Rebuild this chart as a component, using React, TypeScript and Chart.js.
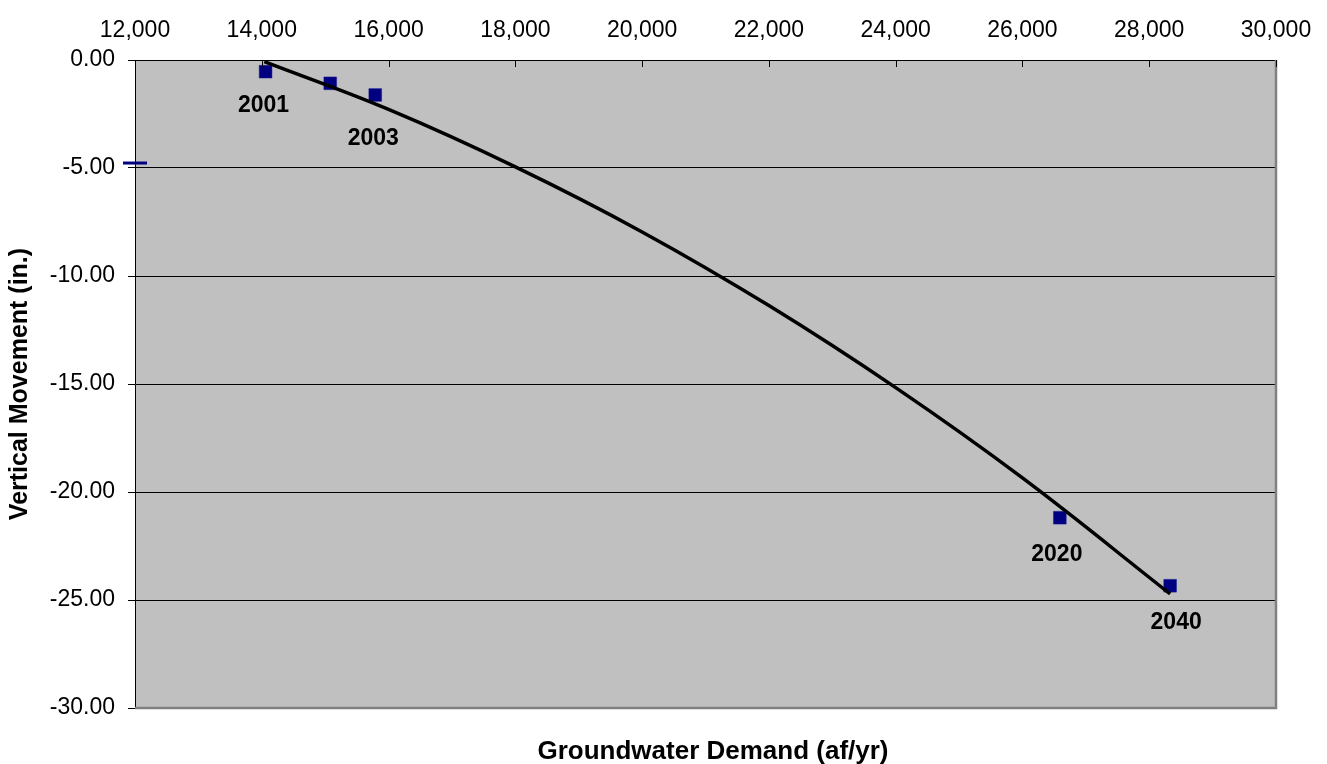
import React, { useEffect, useRef } from 'react';
import { Chart, registerables } from 'chart.js';

Chart.register(...registerables);

// ---- data ----
const yearLabels = ['2001', '', '2003', '2020', '2040'];
const demand = [14060, 15080, 15790, 26590, 28330];
const movement = [-0.54, -1.08, -1.62, -21.19, -24.34];

const trendDemand = [14040, 16000, 18000, 20000, 22000, 24000, 26000, 28330];
const trendMovement = [-0.08, -2.29, -4.95, -7.96, -11.37, -15.17, -19.35, -24.72];

const strayDemand = [12000];
const strayMovement = [-4.77];

const xTickValues = [12000, 14000, 16000, 18000, 20000, 22000, 24000, 26000, 28000, 30000];
const yTickValues = [0, -5, -10, -15, -20, -25, -30];

const xTitle = 'Groundwater Demand (af/yr)';
const yTitle = 'Vertical Movement (in.)';

// label placement (style, not data)
const labelDx = [-2, 0, -2, -3, 6];
const labelDy = [34, 0, 44, 37, 37];

const FONT = '"Liberation Sans", Arial, Helvetica, sans-serif';

export default function App() {
  const ref = useRef<HTMLCanvasElement | null>(null);

  useEffect(() => {
    document.body.style.margin = '0';
    const canvas = ref.current;
    if (!canvas) return;

    const decor = {
      id: 'decor',
      beforeDraw(chart: any) {
        const { ctx, chartArea: a } = chart;
        ctx.save();
        ctx.fillStyle = '#ffffff';
        ctx.fillRect(0, 0, chart.width, chart.height);
        ctx.fillStyle = '#C0C0C0';
        ctx.fillRect(a.left, a.top, a.right - a.left, a.bottom - a.top);
        ctx.restore();
      },
      afterDatasetsDraw(chart: any) {
        const { ctx } = chart;
        const meta = chart.getDatasetMeta(1);
        ctx.save();
        ctx.fillStyle = '#000000';
        ctx.font = 'bold 23px ' + FONT;
        ctx.textAlign = 'center';
        ctx.textBaseline = 'middle';
        meta.data.forEach((el: any, i: number) => {
          const t = yearLabels[i];
          if (!t) return;
          ctx.fillText(t, el.x + labelDx[i], el.y + labelDy[i]);
        });
        ctx.restore();
      },
      afterDraw(chart: any) {
        const { ctx, chartArea: a, scales } = chart;
        ctx.save();
        // gray right and bottom border
        ctx.strokeStyle = '#808080';
        ctx.lineWidth = 2.5;
        ctx.beginPath();
        ctx.moveTo(a.right, a.top);
        ctx.lineTo(a.right, a.bottom);
        ctx.lineTo(a.left, a.bottom);
        ctx.stroke();
        // inner tick marks of the top axis
        ctx.strokeStyle = '#000000';
        ctx.lineWidth = 1;
        xTickValues.forEach((v) => {
          const px = Math.round(scales.x.getPixelForValue(v)) + 0.5;
          ctx.beginPath();
          ctx.moveTo(px, a.top);
          ctx.lineTo(px, a.top + 7);
          ctx.stroke();
        });
        // axis titles
        ctx.fillStyle = '#000000';
        ctx.font = 'bold 26px ' + FONT;
        ctx.textAlign = 'center';
        ctx.textBaseline = 'middle';
        ctx.fillText(xTitle, 713, 752);
        ctx.translate(20, 384);
        ctx.rotate(-Math.PI / 2);
        ctx.font = 'bold 25px ' + FONT;
        ctx.fillText(yTitle, 0, 0);
        ctx.restore();
      },
    };

    const chart = new Chart(canvas, {
      type: 'scatter',
      data: {
        datasets: [
          {
            label: 'Trend',
            data: trendDemand.map((x, i) => ({ x, y: trendMovement[i] })),
            showLine: true,
            borderColor: '#000000',
            borderWidth: 3.5,
            pointRadius: 0,
            tension: 0.4,
            order: 0,
          },
          {
            label: 'Vertical Movement',
            data: demand.map((x, i) => ({ x, y: movement[i] })),
            pointStyle: 'rect',
            pointRadius: 9,
            backgroundColor: '#000080',
            borderColor: '#1a1a99',
            borderWidth: 0.5,
            order: 1,
          },
          {
            label: 'Marker',
            data: strayDemand.map((x, i) => ({ x, y: strayMovement[i] })),
            pointStyle: 'line',
            pointRadius: 12,
            borderColor: '#000080',
            backgroundColor: '#000080',
            borderWidth: 3,
            clip: false,
            order: 2,
          },
        ],
      },
      options: {
        responsive: false,
        maintainAspectRatio: false,
        animation: false,
        devicePixelRatio: 1,
        layout: { padding: { left: 0, top: 0, right: 51, bottom: 56 } },
        plugins: {
          legend: { display: false },
          tooltip: { enabled: false },
        },
        scales: {
          x: {
            type: 'linear',
            position: 'top',
            min: 12000,
            max: 30000,
            afterBuildTicks: (s: any) => {
              s.ticks = xTickValues.map((value) => ({ value }));
            },
            afterFit: (s: any) => {
              s.height = 60;
              s.paddingLeft = 0;
              s.paddingRight = 0;
            },
            grid: { display: false },
            border: { display: true, color: '#000000', width: 1 },
            ticks: {
              color: '#000000',
              font: { family: FONT, size: 23 },
              padding: 8,
              maxRotation: 0,
              autoSkip: false,
              callback: (v: any) => Number(v).toLocaleString('en-US'),
            },
          },
          y: {
            type: 'linear',
            min: -30,
            max: 0,
            afterBuildTicks: (s: any) => {
              s.ticks = yTickValues.map((value) => ({ value }));
            },
            afterFit: (s: any) => {
              s.width = 135;
              s.paddingTop = 0;
              s.paddingBottom = 0;
            },
            grid: {
              display: true,
              color: '#000000',
              lineWidth: 1,
              drawTicks: true,
              tickLength: 7,
              tickColor: '#000000',
            },
            border: { display: true, color: '#000000', width: 1 },
            ticks: {
              color: '#000000',
              font: { family: FONT, size: 23 },
              padding: 13,
              autoSkip: false,
              callback: (v: any) => Number(v).toFixed(2),
            },
          },
        },
      },
      plugins: [decor],
    } as any);

    return () => chart.destroy();
  }, []);

  return (
    <div style={{ width: 1327, height: 764 }}>
      <canvas ref={ref} width={1327} height={764} style={{ display: 'block' }} />
    </div>
  );
}
